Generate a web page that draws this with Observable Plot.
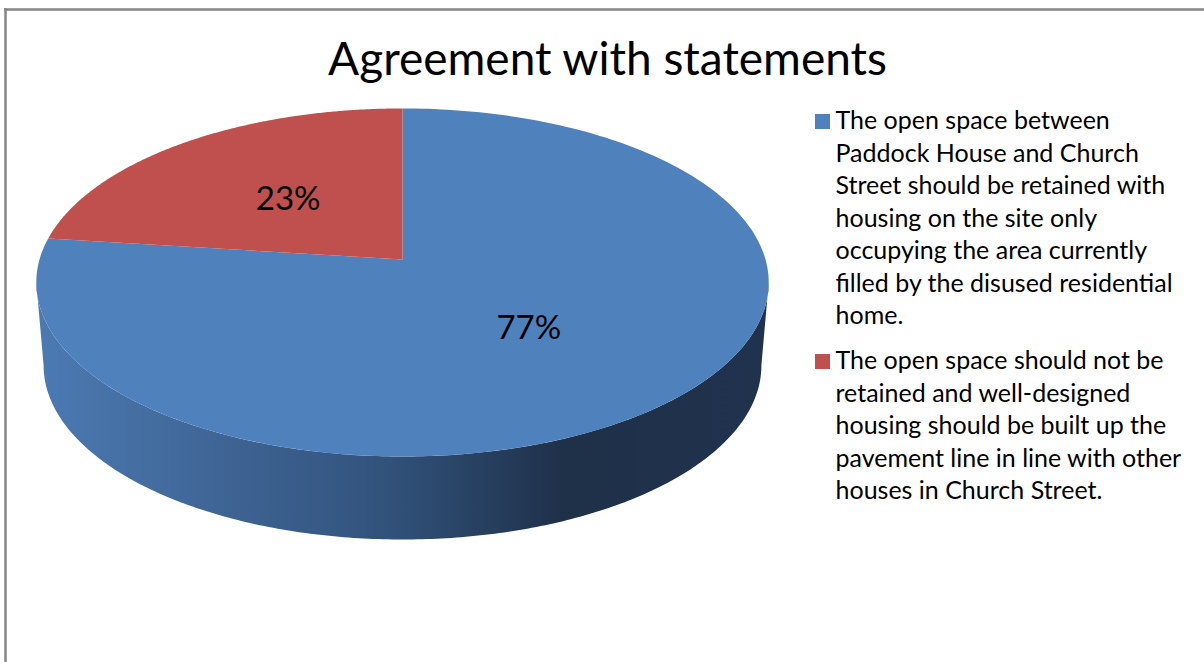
<!DOCTYPE html>
<html>
<head>
<meta charset="utf-8">
<script src="https://cdn.jsdelivr.net/npm/d3@7"></script>
<script src="https://cdn.jsdelivr.net/npm/@observablehq/plot@0.6"></script>
<style>html,body{margin:0;padding:0;background:#fff;overflow:hidden}svg{display:block}</style>
</head>
<body>
<div id="chart"></div>
<script>
const titleText = "Agreement with statements";
const categories = [
  "The open space between\nPaddock House and Church\nStreet should be retained with\nhousing on the site only\noccupying the area currently\nfilled by the disused residential\nhome.",
  "The open space should not be\nretained and well-designed\nhousing should be built up the\npavement line in line with other\nhouses in Church Street."
];
const shares = [77, 23];
const sliceColors = ["#4f81bd", "#c0504d"];

const W = 1204, H = 662;
const FONT = "Lato, Carlito, Calibri, sans-serif";
// Perspective view of the pie's top and bottom discs
const cx = 402, cy = 259, A = 363, B = 171, k = 0.132, depth = 83, lowerScale = 0.98;
const top3d = (t, r = 1) => {
  const u = r * Math.sin(t), v = r * Math.cos(t), w = 1 + k * v;
  return {x: cx + A * u / w, y: cy - B * v / w};
};
const low3d = (t) => {
  const u = Math.sin(t), v = Math.cos(t), w = 1 + k * v;
  return {x: cx + A * lowerScale * u / w, y: cy + depth - B * v / w};
};
const steps = (a, b, n = 240) => d3.range(n + 1).map(i => a + (b - a) * i / n);

const arcs = d3.pie().sort(null)(shares);
const sliceOutlines = arcs.map(a => [{x: cx, y: cy}, ...steps(a.startAngle, a.endAngle).map(t => top3d(t))]);
const rightTurn = Math.PI / 2 + Math.asin(k), leftTurn = 2 * Math.PI - rightTurn;
const sideOutline = [
  ...steps(rightTurn, leftTurn).map(t => top3d(t)),
  ...steps(leftTurn, rightTurn).map(low3d)
];
const labels = arcs.map((a, i) => ({...top3d((a.startAngle + a.endAngle) / 2, 0.5), text: shares[i] + "%"}));

const legendKeys = [{y1: 114, y2: 129}, {y1: 354, y2: 369}];
const legendTops = [105.5, 345.5];

const gradient = () => {
  const g = d3.create("svg:g");
  const lg = g.append("defs").append("linearGradient").attr("id", "side").attr("x1", 0).attr("x2", 1).attr("y1", 0).attr("y2", 0);
  [[0, "#4b7ab3"], [0.2, "#42699b"], [0.48, "#31527b"], [0.72, "#1f3049"], [1, "#20324d"]]
    .forEach(([o, c]) => lg.append("stop").attr("offset", o).attr("stop-color", c));
  return g.node();
};

const chart = Plot.plot({
  width: W, height: H, margin: 0,
  style: {background: "#fff", fontFamily: FONT},
  x: {domain: [0, W], range: [0, W], axis: null},
  y: {domain: [0, H], range: [0, H], axis: null},
  marks: [
    gradient,
    Plot.ruleY([9], {x1: 4, x2: W, stroke: "#868686", strokeWidth: 2.5}),
    Plot.ruleX([5], {y1: 8, y2: H, stroke: "#868686", strokeWidth: 2.5}),
    Plot.line(sideOutline, {x: "x", y: "y", fill: "url(#side)", stroke: "none", curve: "linear-closed"}),
    ...sliceOutlines.map((pts, i) => Plot.line(pts, {x: "x", y: "y", fill: sliceColors[i], stroke: "none", curve: "linear-closed"})),
    Plot.text(labels, {x: "x", y: "y", dy: 1, text: "text", fontSize: 33, fill: "#000", fontFamily: FONT}),
    Plot.text([titleText], {x: 607, y: 60, text: d => d, fontSize: 46, fill: "#000", fontFamily: FONT}),
    ...categories.map((c, i) => Plot.rect([c], {x1: 815, x2: 830, y1: legendKeys[i].y1, y2: legendKeys[i].y2, fill: sliceColors[i]})),
    ...categories.map((c, i) => Plot.text([c], {x: 835, y: legendTops[i], text: d => d, textAnchor: "start", lineAnchor: "top", lineHeight: 1.3, fontSize: 25, fill: "#000", fontFamily: FONT}))
  ]
});
document.getElementById("chart").append(chart);
</script>
</body>
</html>
